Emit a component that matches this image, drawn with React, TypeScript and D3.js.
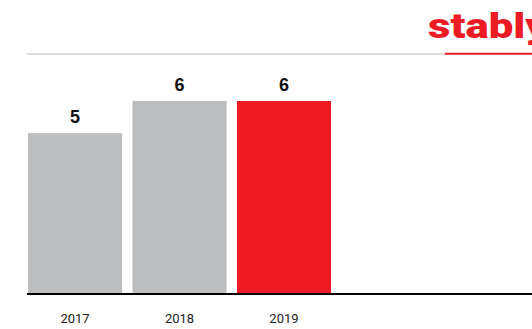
import React from "react";
import * as d3 from "d3";

const years = ["2017", "2018", "2019"];
const values = [5, 6, 6];
const highlight = ["2019"];
const title = "stably";

const W = 532;
const H = 329;

export default function App() {
  const x = d3.scaleBand<string>().domain(years).range([28, 331]).paddingInner(0.1).paddingOuter(0);
  const y = d3.scaleLinear().domain([0, 6]).range([294, 101]);
  return (
    <svg width={W} height={H} style={{ position: "absolute", left: 0, top: 0, background: "#fff" }}>
      <text
        transform="translate(428,37.5) scale(1.25,1)"
        fill="#ed1c24"
        fontFamily="Roboto, sans-serif"
        fontWeight={900}
        fontSize={35}
      >
        {title}
      </text>
      <line x1={27} x2={445} y1={54} y2={54} stroke="#cfcfcf" strokeWidth={1.5} />
      <line x1={445} x2={W} y1={53.7} y2={53.7} stroke="#ed1c24" strokeWidth={2} />
      {years.map((yr, i) => (
        <g key={yr}>
          <rect
            x={x(yr)!}
            y={y(values[i])}
            width={x.bandwidth()}
            height={y(0) - y(values[i])}
            fill={highlight.includes(yr) ? "#ed1c24" : "#bcbdbf"}
          />
          <text
            x={x(yr)! + x.bandwidth() / 2}
            y={y(values[i]) - 10}
            textAnchor="middle"
            fontFamily="Liberation Sans, Arial, sans-serif"
            fontWeight={700}
            fontSize={18}
            fill="#111"
          >
            {values[i]}
          </text>
          <text
            x={x(yr)! + x.bandwidth() / 2}
            y={323}
            textAnchor="middle"
            fontFamily="Roboto, sans-serif"
            fontWeight={400}
            fontSize={13}
            fill="#222"
          >
            {yr}
          </text>
        </g>
      ))}
      <line x1={27} x2={W} y1={y(0)} y2={y(0)} stroke="#000" strokeWidth={2} />
    </svg>
  );
}
